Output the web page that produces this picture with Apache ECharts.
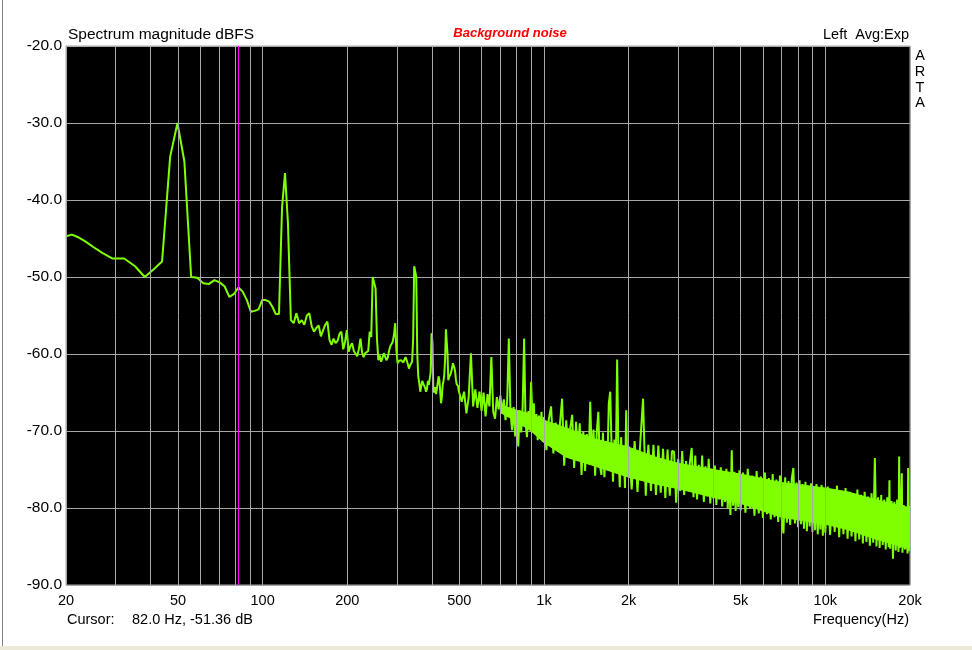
<!DOCTYPE html>
<html>
<head>
<meta charset="utf-8">
<title>Spectrum magnitude dBFS</title>
<script src="https://cdn.jsdelivr.net/npm/echarts@6/dist/echarts.min.js"></script>
<style>
    html, body { margin: 0; padding: 0; background: #fff; }
    #chart { position: absolute; left: 0; top: 0; width: 972px; height: 650px; }
    .edge-left { position: absolute; left: 2px; top: 0; width: 1px; height: 646px; background: #808080; }
    .edge-bottom { position: absolute; left: 0; top: 646px; width: 972px; height: 4px; background: #ece9d8; }
</style>
</head>
<body>
<div id="chart"></div>
<div class="edge-left"></div>
<div class="edge-bottom"></div>
<script>
// spectrum, [Hz, dBFS]
const spectrumLow = [
    [20, -44.7], [21, -44.5], [22, -44.8], [23.5, -45.4], [25, -46.1], [27, -46.9], [29.3, -47.6],
    [32.2, -47.6], [35.2, -48.6], [38.1, -50.0], [41, -49.0], [43.9, -48.0], [46.9, -34.4],
    [49.8, -30.0], [52.7, -35.0], [55.7, -50.0], [58.6, -50.1], [61.5, -50.8], [64.5, -50.9],
    [67.4, -50.4], [70.3, -50.7], [73.2, -51.2], [76.2, -52.6], [79.1, -52.2], [82.0, -51.36],
    [84.9, -51.9], [87.9, -53.0], [90.8, -54.5], [93.7, -54.4], [96.7, -54.2], [99.6, -53.0],
    [102.5, -53.0], [105.5, -53.2], [108.4, -53.9], [111.3, -54.8], [114.3, -54.8], [117.2, -41.0],
    [120.1, -36.5], [123.0, -43.0], [126.0, -55.6], [128.9, -56.0], [131.8, -54.7], [134.8, -56.0],
    [137.7, -55.6], [140.6, -56.2], [143.6, -55.0], [146.5, -54.7], [149.4, -56.4], [152.3, -57.1],
    [155.3, -56.6], [158.2, -56.3], [161.1, -57.7], [164.1, -56.9], [167, -56.2], [169.9, -55.8],
    [172.9, -58.2], [175.8, -58.8], [178.7, -58.0], [181.6, -58.6], [184.6, -58.3], [187.5, -57.4],
    [190.4, -57.1], [193.4, -59.4], [196.3, -58.4], [199.2, -56.9], [202.1, -59.7], [205.1, -59.0],
    [208, -58.6], [210.9, -59.6], [213.9, -59.5], [216.8, -60.3], [219.7, -59.4], [222.7, -58.0],
    [225.6, -59.8], [228.5, -60.4], [231.4, -59.9], [234.4, -60.1], [237.3, -59.6], [240.2, -57.1],
    [243.2, -57.8], [246.1, -50.0], [249.0, -49.8], [252, -51.5]
];

const spectrumMid = [
    [254.9, -58], [257.8, -60.8], [260.7, -60.2], [263.7, -61.0], [266.6, -60.5], [269.5, -59.9],
    [272.5, -59.7], [275.4, -60.8], [278.3, -60.5], [281.3, -59.6], [284.2, -59.0], [287.1, -58.7],
    [290, -58.4], [293, -57.5], [295.9, -56.0], [298.8, -59.5], [301.8, -61.2], [304.7, -60.9],
    [307.6, -61.0], [310.5, -60.8], [313.5, -60.6], [316.4, -61.1], [319.3, -60.7], [322.3, -60.4],
    [325.2, -60.6], [328.1, -61.3], [331.1, -61.9], [334, -61.5], [336.9, -61.6], [339.8, -61.0],
    [342.8, -58], [345.7, -48.6], [348.6, -48.4], [351.6, -50], [354.5, -60], [357.4, -62.9],
    [360.4, -63.8], [363.3, -64.9], [366.2, -64.2], [369.1, -63.5], [372.1, -63.8], [375, -63.6],
    [377.9, -64.4], [380.9, -64.9], [383.8, -64.5], [386.7, -63.5], [389.6, -64], [392.6, -63.2],
    [395.5, -62.4], [398.4, -57.3], [401.4, -58.5], [404.3, -64.7], [407.2, -65.0], [410.2, -64.3],
    [413.1, -65.2], [416, -64.6], [419, -63.8], [421.9, -62.9], [424.8, -63.4], [427.7, -64.8],
    [430.7, -66.4], [433.6, -65.5], [436.5, -64.0], [439.5, -63.5], [442.4, -62.6], [445.3, -60.5],
    [448.2, -56.8], [451.2, -56.7], [454.1, -60], [457, -63.4], [460, -63.0], [462.9, -62.9],
    [465.8, -62.6], [468.8, -62.8], [471.7, -61.8], [474.6, -61.2], [477.5, -61.4], [480.5, -61.8],
    [483.4, -62.3], [486.3, -63.3], [489.3, -63.9], [492.2, -63.8], [495.1, -64.2], [498, -64.8],
    [500, -64.8], [510, -66.2], [520, -64.9], [530, -67.7], [540, -65.6], [550, -59.9], [560, -66.8],
    [570, -64.6], [580, -67.0], [590, -64.9], [600, -67.4], [610, -65.0], [620, -68.1], [630, -65.2],
    [640, -66.8], [650, -60.4], [660, -67.5], [670, -68.4], [680, -65.6], [690, -67.2], [700, -65.4],
    [710, -67.7], [720, -65.9], [730, -68.6], [740, -66.1], [750, -58.0], [760, -67.4], [770, -69.9],
    [780, -66.9], [790, -70.7], [800, -67.6], [810, -72.0], [820, -67.3], [830, -70.2], [840, -66.8],
    [850, -58.0], [860, -68.9], [870, -70.8], [880, -67.4], [890, -69.6], [900, -63.6], [910, -68.4],
    [920, -66.4], [930, -70.4], [940, -67.8], [950, -71.2], [960, -68.0], [970, -69.9], [980, -67.5],
    [990, -71.4], [1000, -68.2]
];

const spectrumHigh = [
    [1020, -72.5], [1040, -68.5], [1060, -66.8], [1080, -72.9], [1100, -68.9], [1120, -72.2],
    [1140, -69.0], [1160, -65.8], [1180, -74.5], [1200, -68.6], [1220, -73.0], [1240, -69.6],
    [1260, -67.9], [1280, -74.8], [1300, -68.8], [1320, -72.8], [1340, -69.0], [1360, -75.7],
    [1380, -70.1], [1400, -75.2], [1420, -70.4], [1440, -74.2], [1460, -66.2], [1480, -73.8],
    [1500, -69.8], [1520, -75.8], [1540, -70.2], [1560, -67.5], [1580, -74.4], [1600, -75.7],
    [1620, -70.2], [1640, -76.0], [1660, -71.3], [1680, -74.3], [1700, -66.4], [1720, -64.9],
    [1740, -72.6], [1760, -76.6], [1780, -71.1], [1800, -74.9], [1820, -60.7], [1840, -73.2],
    [1860, -77.3], [1880, -70.8], [1900, -75.1], [1920, -71.9], [1940, -77.4], [1960, -67.3],
    [1980, -75.4], [2000, -72.0],
    [2050, -77.6], [2100, -71.3], [2150, -77.9], [2200, -71.4], [2250, -65.8], [2300, -78.4],
    [2350, -71.8], [2400, -77.8], [2450, -71.8], [2500, -78.3], [2550, -71.9], [2600, -78.0],
    [2650, -72.3], [2700, -78.7], [2750, -72.4], [2800, -78.4], [2850, -72.6], [2900, -72.7],
    [2950, -79.3], [3000, -73.6], [3050, -77.8], [3100, -72.6], [3150, -78.3], [3200, -73.9],
    [3250, -77.6], [3300, -74.1], [3350, -72.2], [3400, -78.6], [3450, -73.2], [3500, -78.9],
    [3550, -74.4], [3600, -78.1], [3650, -73.2], [3700, -79.2], [3750, -74.6], [3800, -78.5],
    [3850, -73.6], [3900, -79.4], [3950, -74.9], [4000, -78.8], [4050, -74.5], [4100, -79.6],
    [4150, -75.2], [4200, -78.9], [4250, -74.7], [4300, -79.8], [4350, -75.4], [4400, -79.2],
    [4450, -74.9], [4500, -80.1], [4550, -75.6], [4600, -80.9], [4650, -72.5], [4700, -79.7],
    [4750, -75.3], [4800, -80.4], [4850, -75.8], [4900, -79.9], [4950, -75.1], [5000, -80.3],
    [5100, -75.4], [5200, -80.6], [5300, -74.9], [5400, -80.1], [5500, -75.8], [5600, -81.0],
    [5700, -75.2], [5800, -80.7], [5900, -75.9], [6000, -81.3], [6100, -75.4], [6200, -80.8],
    [6300, -76.1], [6400, -81.5], [6500, -75.6], [6600, -81.2], [6700, -76.3], [6800, -81.8],
    [6900, -75.8], [7000, -81.4], [7100, -83.3], [7200, -76.0], [7300, -81.9], [7400, -76.5],
    [7500, -82.2], [7600, -76.2], [7700, -74.8], [7800, -82.0], [7900, -76.7], [8000, -82.5],
    [8100, -76.4], [8200, -82.1], [8300, -76.9], [8400, -82.7], [8500, -76.6], [8600, -83.0],
    [8700, -77.1], [8800, -82.4], [8900, -76.8], [9000, -83.1], [9100, -77.3], [9200, -82.9],
    [9300, -76.9], [9400, -83.4], [9500, -77.4], [9600, -82.8], [9700, -77.0], [9800, -83.6],
    [9900, -77.5], [10000, -83.2],
    [10200, -77.2], [10400, -83.5], [10600, -77.6], [10800, -83.1], [11000, -77.1], [11200, -83.8],
    [11400, -77.8], [11600, -83.4], [11800, -77.4], [12000, -84.0], [12200, -77.9], [12400, -83.7],
    [12600, -78.1], [12800, -84.3], [13000, -77.6], [13200, -84.1], [13400, -78.3], [13600, -84.6],
    [13800, -77.9], [14000, -84.4], [14200, -78.5], [14400, -84.9], [14600, -78.1], [14800, -84.5],
    [15000, -73.5], [15200, -85.0], [15400, -78.6], [15600, -85.2], [15800, -78.3], [16000, -84.8],
    [16200, -78.9], [16400, -85.4], [16600, -78.6], [16800, -85.1], [16900, -76.4], [17000, -85.3],
    [17200, -79.1], [17400, -86.6], [17600, -79.2], [17800, -85.5], [18000, -78.9], [18200, -85.7],
    [18300, -73.3], [18400, -85.2], [18600, -79.4], [18700, -75.5], [18800, -85.8], [19000, -79.6],
    [19200, -85.4], [19400, -79.8], [19600, -85.9], [19700, -74.8], [19800, -85.6], [20000, -79.7]
];

const bandFreqs = [700, 800, 900, 1000, 1200, 1500, 2000, 2500, 3000, 4000, 5000, 7000, 10000, 12000, 15000, 20000];
const bandUpper = [-66.6, -67.3, -67.8, -68.6, -69.6, -71.0, -72.1, -73.4, -74.2, -75.0, -75.6, -76.7, -77.4, -77.9, -78.9, -80.0];
const bandLower = [-67.6, -68.8, -70.0, -71.5, -73.4, -74.5, -76.0, -76.9, -77.5, -78.6, -79.4, -81.2, -82.1, -82.8, -84.0, -85.3];

// axis
const gridFreqs = [20, 30, 40, 50, 60, 70, 80, 90, 100, 200, 300, 400, 500, 600, 700, 800, 900,
    1000, 2000, 3000, 4000, 5000, 6000, 7000, 8000, 9000, 10000, 20000];
const tickFreqs = [20, 50, 100, 200, 500, 1000, 2000, 5000, 10000, 20000];
const tickLabels = ['20', '50', '100', '200', '500', '1k', '2k', '5k', '10k', '20k'];

// cursor
const cursorFreq = 82.0;
const cursorLevel = -51.36;

const FONT = '"Liberation Sans", Arial, sans-serif';
const GRID_COLOR = '#a8a8a8';
const TRACE_COLOR = '#80ff00';

const chart = echarts.init(document.getElementById('chart'));

const gridLines = gridFreqs.map(f => {
    const idx = tickFreqs.indexOf(f);
    const item = {xAxis: f};
    if (idx > -1) {
        item.label = {show: true, formatter: tickLabels[idx]};
    }
    return item;
});

// one quad per band segment: [f0, f1, up0, up1, lo0, lo1]
const bandSegments = bandFreqs.slice(0, -1).map((f, i) => [
    f, bandFreqs[i + 1], bandUpper[i], bandUpper[i + 1], bandLower[i], bandLower[i + 1]
]);

const renderBand = (params, api) => {
    const points = [
        api.coord([api.value(0), api.value(2)]),
        api.coord([api.value(1), api.value(3)]),
        api.coord([api.value(1), api.value(5)]),
        api.coord([api.value(0), api.value(4)])
    ];
    return {
        type: 'polygon',
        shape: {points: points},
        style: {fill: TRACE_COLOR, stroke: TRACE_COLOR, lineWidth: 1}
    };
};

const text = (x, y, str, extra) => ({
    type: 'text',
    silent: true,
    style: Object.assign({
        x: x,
        y: y,
        text: str,
        fill: '#000',
        font: '14.5px ' + FONT,
        textVerticalAlign: 'middle'
    }, extra || {})
});

chart.setOption({
    animation: false,
    backgroundColor: '#fff',
    grid: {
        left: 66,
        top: 46,
        right: 62,
        bottom: 65,
        show: true,
        backgroundColor: '#000',
        borderColor: GRID_COLOR,
        borderWidth: 1
    },
    xAxis: {
        type: 'log',
        logBase: 10,
        min: 20,
        max: 20000,
        axisLine: {show: false},
        axisTick: {show: false},
        axisLabel: {show: false},
        splitLine: {show: false}
    },
    yAxis: {
        type: 'value',
        min: -90,
        max: -20,
        interval: 10,
        axisLine: {show: false},
        axisTick: {show: false},
        axisLabel: {
            color: '#000',
            fontSize: 15.5,
            fontFamily: FONT,
            margin: 4,
            formatter: v => v.toFixed(1)
        },
        splitLine: {lineStyle: {color: GRID_COLOR, width: 1}}
    },
    series: [
        {
            // vertical grid + frequency labels
            type: 'line',
            data: [],
            z: 1,
            markLine: {
                silent: true,
                symbol: 'none',
                emphasis: {disabled: true},
                lineStyle: {color: GRID_COLOR, width: 1, type: 'solid'},
                label: {
                    show: false,
                    position: 'start',
                    distance: 8,
                    color: '#000',
                    fontSize: 14.5,
                    fontFamily: FONT
                },
                data: gridLines
            }
        },
        {
            // solid body of the noise floor
            type: 'custom',
            data: bandSegments,
            encode: {x: [0, 1], y: [2, 3, 4, 5]},
            renderItem: renderBand,
            clip: true,
            silent: true,
            z: 2
        },
        {
            type: 'line',
            data: spectrumLow.concat(spectrumMid, spectrumHigh),
            z: 3,
            symbol: 'none',
            lineStyle: {color: TRACE_COLOR, width: 2},
            emphasis: {disabled: true}
        },
        {
            // cursor
            type: 'line',
            data: [],
            z: 4,
            markLine: {
                silent: true,
                symbol: 'none',
                emphasis: {disabled: true},
                label: {show: false},
                lineStyle: {color: '#ff00ff', width: 1, type: 'solid'},
                data: [{xAxis: cursorFreq}]
            }
        }
    ],
    graphic: [
        text(68, 35, 'Spectrum magnitude dBFS', {font: '15.5px ' + FONT}),
        text(510, 33, 'Background noise', {
            fill: '#ff0000',
            font: 'italic bold 13px ' + FONT,
            textAlign: 'center'
        }),
        text(909, 35, 'Left  Avg:Exp', {textAlign: 'right'}),
        text(920, 56, 'A', {textAlign: 'center'}),
        text(920, 72, 'R', {textAlign: 'center'}),
        text(920, 88, 'T', {textAlign: 'center'}),
        text(920, 103, 'A', {textAlign: 'center'}),
        text(67, 620, 'Cursor:'),
        text(132, 620, cursorFreq.toFixed(1) + ' Hz, ' + cursorLevel.toFixed(2) + ' dB'),
        text(909, 620, 'Frequency(Hz)', {textAlign: 'right'})
    ]
});
</script>
</body>
</html>
